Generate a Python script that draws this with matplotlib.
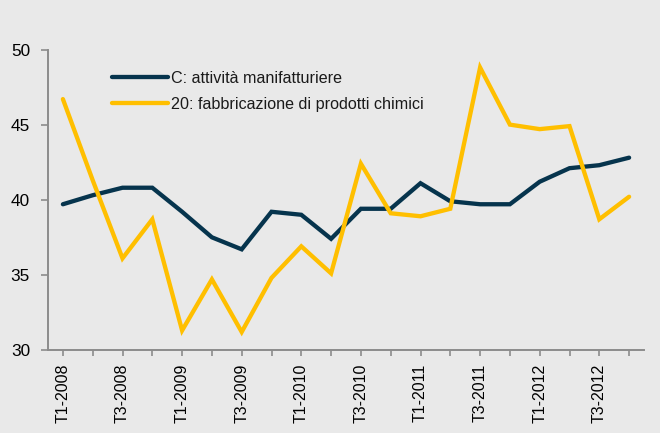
"""Quarterly comparison: manufacturing vs chemical products."""

import matplotlib as mpl
import matplotlib.pyplot as plt

BG = "#E9E9E9"
NAVY = "#06344D"
GOLD = "#FFBF00"
AXIS = "#8C8C8C"

mpl.rcParams.update(
    {
        "font.family": ["Liberation Sans", "DejaVu Sans"],
        "font.size": 11,
        "text.color": "#1A1A1A",
    }
)

quarters = [f"T{q}-{y}" for y in range(2008, 2013) for q in range(1, 5)]
manifattura = [39.7, 40.3, 40.8, 40.8, 39.2, 37.5, 36.7, 39.2, 39.0, 37.4,
               39.4, 39.4, 41.1, 39.9, 39.7, 39.7, 41.2, 42.1, 42.3, 42.8]
chimica = [46.7, 41.3, 36.1, 38.7, 31.3, 34.7, 31.2, 34.8, 36.9, 35.1,
           42.4, 39.1, 38.9, 39.4, 48.8, 45.0, 44.7, 44.9, 38.7, 40.2]
labels = ["C: attività manifatturiere", "20: fabbricazione di prodotti chimici"]
y_ticks = [30, 35, 40, 45, 50]


fig = plt.figure(figsize=(6.6, 4.33), dpi=100, facecolor=BG)
ax = fig.add_axes([48 / 660, 1 - 350 / 433, 596 / 660, 300.5 / 433])
ax.set_facecolor(BG)

x = list(range(len(quarters)))
ax.plot(x, manifattura, color=NAVY, lw=3.1, solid_capstyle="round",
        solid_joinstyle="miter", label=labels[0])
ax.plot(x, chimica, color=GOLD, lw=3.1, solid_capstyle="round",
        solid_joinstyle="miter", label=labels[1])

ax.set_xlim(-0.5, len(quarters) - 0.5)
ax.set_ylim(30, 50)
ax.set_yticks(y_ticks)
ax.set_xticks(x)
ax.set_xticklabels([q if i % 2 == 0 else "" for i, q in enumerate(quarters)],
                   rotation=90, fontsize=11.5)
ax.tick_params(axis="y", length=5, width=1.2, color=AXIS, pad=8, labelsize=12.4)
ax.tick_params(axis="x", length=4, width=1.2, color=AXIS, pad=6)

for side in ("top", "right"):
    ax.spines[side].set_visible(False)
for side in ("left", "bottom"):
    ax.spines[side].set_color(AXIS)
    ax.spines[side].set_linewidth(1.4)

ax.legend(
    loc="upper left",
    bbox_to_anchor=(0.108, 0.929),
    frameon=False,
    fontsize=11.6,
    handlelength=3.45,
    handletextpad=0.2,
    labelspacing=0.68,
    borderpad=0,
    borderaxespad=0,
)

fig.savefig("out.png", dpi=100, facecolor=BG)
